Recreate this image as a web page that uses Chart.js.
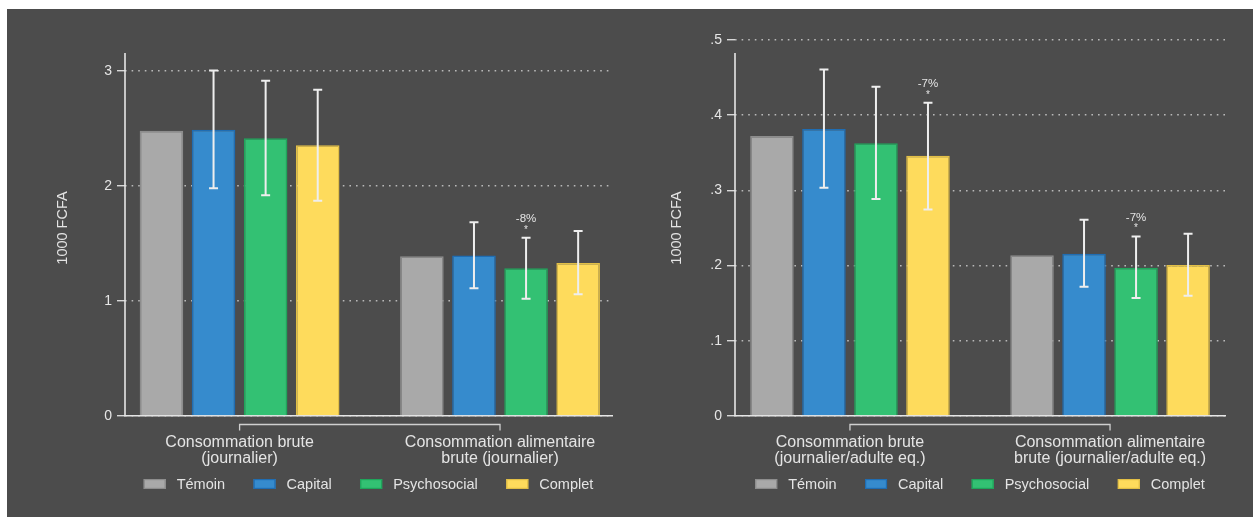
<!DOCTYPE html>
<html lang="fr">
<head>
<meta charset="utf-8">
<title>Consommation brute par groupe de traitement</title>
<script src="https://cdn.jsdelivr.net/npm/chart.js@4.4.1/dist/chart.umd.min.js"></script>
<style>
  html, body { margin: 0; padding: 0; background: #ffffff; width: 1253px; height: 517px; overflow: hidden; }
  #panel { position: absolute; left: 7px; top: 9px; width: 1246px; height: 508px; background: #4c4c4c; overflow: hidden; }
  canvas { position: absolute; top: 0; }
  #left { left: 0; }
  #right { left: 623px; }
</style>
</head>
<body>
<div id="panel">
  <canvas id="left" width="623" height="508"></canvas>
  <canvas id="right" width="623" height="508"></canvas>
</div>
<script>
// Treatment arms
const seriesNames = ['Témoin', 'Capital', 'Psychosocial', 'Complet'];
const seriesFill  = ['#a9a9a9', '#368bcd', '#33c173', '#fedb5c'];
const seriesEdge  = ['#8d8d8d', '#1f6db3', '#1fa55b', '#e2bf46'];

// Outcome groups (two-line labels)
const groupsLeft  = [['Consommation brute', '(journalier)'], ['Consommation alimentaire', 'brute (journalier)']];
const groupsRight = [['Consommation brute', '(journalier/adulte eq.)'], ['Consommation alimentaire', 'brute (journalier/adulte eq.)']];

// Daily consumption, 1000 FCFA (per household)
const temoinLeft  = [2.48, 1.39];
const capitalLeft = [2.49, 1.395];
const psychoLeft  = [2.415, 1.285];
const completLeft = [2.355, 1.33];
// 95% confidence intervals [low, high]; no interval for the control arm
const capitalCiLeft = [[1.98, 3.005], [1.11, 1.685]];
const psychoCiLeft  = [[1.92, 2.915], [1.02, 1.55]];
const completCiLeft = [[1.872, 2.838], [1.058, 1.609]];
const psychoNoteLeft = [null, '-8%'];

// Daily consumption per adult equivalent, 1000 FCFA
const temoinRight  = [0.3725, 0.2138];
const capitalRight = [0.3818, 0.2156];
const psychoRight  = [0.3627, 0.1973];
const completRight = [0.3462, 0.2009];
const capitalCiRight = [[0.3036, 0.4609], [0.172, 0.2609]];
const psychoCiRight  = [[0.2884, 0.4378], [0.1569, 0.2387]];
const completCiRight = [[0.2747, 0.4165], [0.16, 0.2422]];
const psychoNoteRight  = [null, '-7%'];
const completNoteRight = ['-7%', null];

// Y axis ticks and their labels
const yTicksLeft  = [0, 1, 2, 3];
const yLabelsLeft = ['0', '1', '2', '3'];
const yTicksRight  = [0, 0.1, 0.2, 0.3, 0.4, 0.5];
const yLabelsRight = ['0', '.1', '.2', '.3', '.4', '.5'];

const FONT = "'Liberation Sans', Arial, Helvetica, sans-serif";
Chart.defaults.font.family = FONT;
Chart.defaults.color = '#e4e4e4';

// Error bars, significance notes, the left axis line and the group bracket
const overlay = {
  id: 'overlay',
  afterDatasetsDraw(chart, args, opts) {
    const { ctx, chartArea: a, scales: { x, y } } = chart;
    ctx.save();

    // vertical axis line
    ctx.strokeStyle = '#e6e6e6';
    ctx.lineWidth = 1.6;
    ctx.beginPath();
    ctx.moveTo(a.left, a.top + 13);
    ctx.lineTo(a.left, a.bottom);
    ctx.stroke();

    // bracket joining the two outcome groups
    const x1 = x.getPixelForValue(1), x2 = x.getPixelForValue(2);
    const yb = a.bottom + 8.5;
    ctx.strokeStyle = '#cfcfcf';
    ctx.lineWidth = 1.3;
    ctx.beginPath();
    ctx.moveTo(x1, yb + 6);
    ctx.lineTo(x1, yb);
    ctx.lineTo(x2, yb);
    ctx.lineTo(x2, yb + 6);
    ctx.stroke();

    // confidence intervals
    ctx.strokeStyle = '#eeeeee';
    ctx.lineWidth = 2;
    ctx.fillStyle = '#e4e4e4';
    ctx.textAlign = 'center';
    ctx.textBaseline = 'middle';
    opts.ci.forEach((rows, d) => {
      if (!rows) return;
      const meta = chart.getDatasetMeta(d);
      rows.forEach((ci, i) => {
        if (!ci) return;
        const cx = meta.data[i].x;
        const lo = y.getPixelForValue(ci[0]);
        const hi = y.getPixelForValue(ci[1]);
        ctx.beginPath();
        ctx.moveTo(cx, lo); ctx.lineTo(cx, hi);
        ctx.moveTo(cx - 4.5, lo); ctx.lineTo(cx + 4.5, lo);
        ctx.moveTo(cx - 4.5, hi); ctx.lineTo(cx + 4.5, hi);
        ctx.stroke();
        const note = opts.notes[d] && opts.notes[d][i];
        if (note) {
          ctx.font = '10px ' + FONT;
          ctx.fillText('*', cx, hi - 8);
          ctx.font = '11.5px ' + FONT;
          ctx.fillText(note, cx, hi - 19);
        }
      });
    });
    ctx.restore();
  }
};

// One-row legend centred under the plot area
const legendRow = {
  id: 'legendRow',
  afterDraw(chart) {
    const { ctx, chartArea: a } = chart;
    const BOX_W = 22, BOX_H = 10, GAP = 11, SEP = 28.5;
    ctx.save();
    ctx.font = '14.5px ' + FONT;
    const items = chart.data.datasets.map(ds => ({ ds, w: ctx.measureText(ds.label).width }));
    const total = items.reduce((s, it) => s + BOX_W + GAP + it.w, 0) + SEP * (items.length - 1);
    let x = (a.left + a.right) / 2 - total / 2;
    const y = a.bottom + 68;
    ctx.textAlign = 'left';
    ctx.textBaseline = 'middle';
    items.forEach(it => {
      ctx.fillStyle = it.ds.backgroundColor;
      ctx.fillRect(x, y - BOX_H / 2, BOX_W, BOX_H);
      ctx.strokeStyle = it.ds.borderColor;
      ctx.lineWidth = 1.2;
      ctx.strokeRect(x + 0.6, y - BOX_H / 2 + 0.6, BOX_W - 1.2, BOX_H - 1.2);
      ctx.fillStyle = '#e4e4e4';
      ctx.fillText(it.ds.label, x + BOX_W + GAP, y + 0.5);
      x += BOX_W + GAP + it.w + SEP;
    });
    ctx.restore();
  }
};

function makeChart(id, cfg) {
  const datasets = cfg.values.map((vals, d) => ({
    label: seriesNames[d],
    data: vals.map((v, i) => ({ x: i + 1, y: v })),
    backgroundColor: seriesFill[d],
    borderColor: seriesEdge[d],
    borderWidth: 1.5,
    categoryPercentage: 0.8,
    barPercentage: 0.837
  }));

  return new Chart(document.getElementById(id), {
    type: 'bar',
    data: { datasets },
    plugins: [overlay, legendRow],
    options: {
      responsive: false,
      animation: false,
      events: [],
      layout: { padding: { left: 0, right: cfg.padRight, top: 31, bottom: 41 } },
      scales: {
        x: {
          type: 'linear',
          offset: false,
          min: cfg.xMin,
          max: cfg.xMax,
          afterBuildTicks: s => { s.ticks = [{ value: 1 }, { value: 2 }]; },
          afterFit: s => { s.height = 60; },
          ticks: {
            callback: (v, i) => cfg.groups[i],
            maxRotation: 0,
            autoSkip: false,
            padding: 10.5,
            color: '#e4e4e4',
            font: { size: 16, lineHeight: 1 }
          },
          grid: { display: false, offset: false },
          border: { display: true, color: '#e6e6e6', width: 1.6 }
        },
        y: {
          min: 0,
          max: cfg.yMax,
          afterBuildTicks: s => { s.ticks = cfg.yTicks.map(v => ({ value: v })); },
          afterFit: s => { s.width = cfg.yWidth; },
          ticks: {
            callback: (v, i) => cfg.yLabels[i],
            padding: 5,
            color: '#e6e6e6',
            font: { size: 14 }
          },
          grid: {
            color: 'rgba(205,205,205,0.85)',
            lineWidth: 1.4,
            tickLength: 8,
            tickColor: '#d8d8d8',
            tickWidth: 1.4,
            tickBorderDash: []
          },
          border: { display: false, dash: [1.6, 5] },
          title: {
            display: true,
            text: '1000 FCFA',
            color: '#e4e4e4',
            font: { size: 14.5 },
            padding: { top: cfg.titlePad, bottom: 0 }
          }
        }
      },
      plugins: {
        tooltip: { enabled: false },
        legend: { display: false },
        overlay: { ci: cfg.ci, notes: cfg.notes }
      }
    }
  });
}

makeChart('left', {
  values: [temoinLeft, capitalLeft, psychoLeft, completLeft],
  ci: [null, capitalCiLeft, psychoCiLeft, completCiLeft],
  notes: [null, null, psychoNoteLeft, null],
  groups: groupsLeft,
  yTicks: yTicksLeft, yLabels: yLabelsLeft, yMax: 3.27,
  xMin: 0.56, xMax: 2.43,
  yWidth: 118, padRight: 18, titlePad: 47.3
});

makeChart('right', {
  values: [temoinRight, capitalRight, psychoRight, completRight],
  ci: [null, capitalCiRight, psychoCiRight, completCiRight],
  notes: [null, null, psychoNoteRight, completNoteRight],
  groups: groupsRight,
  yTicks: yTicksRight, yLabels: yLabelsRight, yMax: 0.5,
  xMin: 0.558, xMax: 2.442,
  yWidth: 105, padRight: 28, titlePad: 38.3
});
</script>
</body>
</html>
